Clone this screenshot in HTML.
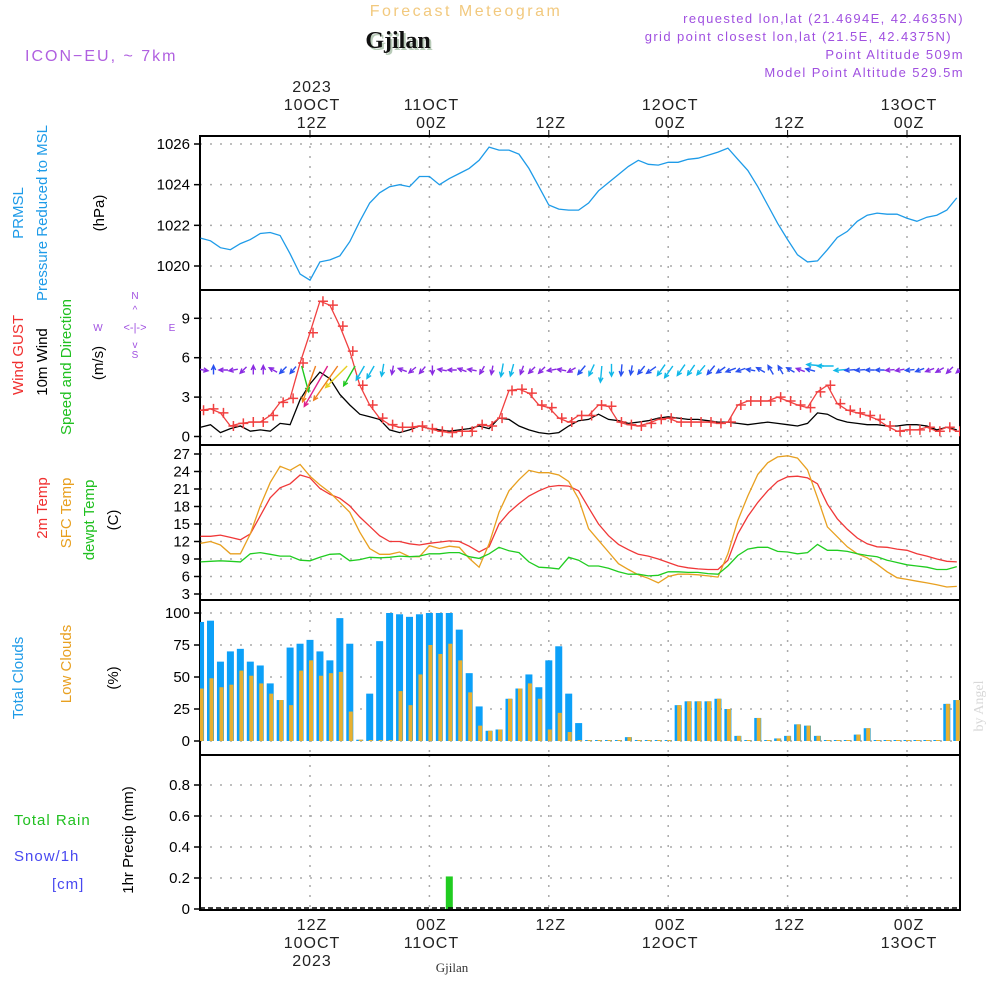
<!DOCTYPE html>
<html><head><meta charset="utf-8"><style>
body{margin:0;background:#fff;}
svg{display:block;font-family:"Liberation Sans",sans-serif;}
</style></head><body>
<svg id="chart" width="1000" height="1000" viewBox="0 0 1000 1000">
<text x="466" y="16" text-anchor="middle" font-size="16" fill="#f2c97e" letter-spacing="2.5">Forecast Meteogram</text>
<text x="400" y="50" text-anchor="middle" font-size="24" font-weight="bold" font-family="Liberation Serif,serif" fill="#b8cbb8">Gjilan</text>
<text x="398" y="48" text-anchor="middle" font-size="24" font-weight="bold" font-family="Liberation Serif,serif" fill="#111">Gjilan</text>
<text x="25" y="61" font-size="16" fill="#b060e0" letter-spacing="2">ICON−EU, ~ 7km</text>
<g font-size="13" fill="#a050e0" text-anchor="end" letter-spacing="1.4">
<text x="964" y="23">requested lon,lat (21.4694E, 42.4635N)</text>
<text x="952" y="41">grid point closest lon,lat (21.5E, 42.4375N)</text>
<text x="964" y="59">Point Altitude 509m</text>
<text x="964" y="77">Model Point Altitude 529.5m</text>
</g>
<g id="axes"></g>
<g id="marks"></g>
<g font-size="15">
<text transform="translate(23,213) rotate(-90)" text-anchor="middle" fill="#1e9be8">PRMSL</text>
<text transform="translate(47,213) rotate(-90)" text-anchor="middle" fill="#1e9be8">Pressure Reduced to MSL</text>
<text transform="translate(104,213) rotate(-90)" text-anchor="middle" fill="#000">(hPa)</text>
<text transform="translate(23,355) rotate(-90)" text-anchor="middle" fill="#f03030">Wind GUST</text>
<text transform="translate(47,362) rotate(-90)" text-anchor="middle" fill="#000">10m Wind</text>
<text transform="translate(71,367) rotate(-90)" text-anchor="middle" fill="#20c020">Speed and Direction</text>
<text transform="translate(103,363) rotate(-90)" text-anchor="middle" fill="#000">(m/s)</text>
<text transform="translate(47,508) rotate(-90)" text-anchor="middle" fill="#f03030">2m Temp</text>
<text transform="translate(71,513) rotate(-90)" text-anchor="middle" fill="#e8a020">SFC Temp</text>
<text transform="translate(94,520) rotate(-90)" text-anchor="middle" fill="#20c020">dewpt Temp</text>
<text transform="translate(118,520) rotate(-90)" text-anchor="middle" fill="#000">(C)</text>
<text transform="translate(23,678) rotate(-90)" text-anchor="middle" fill="#1e9be8">Total Clouds</text>
<text transform="translate(71,664) rotate(-90)" text-anchor="middle" fill="#e8a020">Low Clouds</text>
<text transform="translate(118,678) rotate(-90)" text-anchor="middle" fill="#000">(%)</text>
<text transform="translate(133,840) rotate(-90)" text-anchor="middle" fill="#000">1hr Precip (mm)</text>
<text x="14" y="825" fill="#20c020" letter-spacing="1">Total  Rain</text>
<text x="14" y="861" fill="#4848f0" letter-spacing="1">Snow/1h</text>
<text x="52" y="889" fill="#4848f0" letter-spacing="1">[cm]</text>
</g>
<g font-size="10" fill="#a050e0">
<text x="135" y="299" text-anchor="middle">N</text>
<text x="135" y="358" text-anchor="middle">S</text>
<text x="98" y="331" text-anchor="middle">W</text>
<text x="172" y="331" text-anchor="middle">E</text>
<text x="135" y="331" text-anchor="middle" font-size="11">&lt;-|-&gt;</text>
<text x="135" y="313" text-anchor="middle" font-size="10">^</text>
<text x="135" y="348" text-anchor="middle" font-size="10">v</text>
</g>
<text transform="translate(983,706) rotate(-90)" text-anchor="middle" font-size="14" font-family="Liberation Serif,serif" fill="#d8d8d8">by Angel</text>
<text x="452" y="972" text-anchor="middle" font-size="13" font-family="Liberation Serif,serif" fill="#333">Gjilan</text>
</svg>
<script>
// hours from 10OCT 00Z
const hours = Array.from({length:77},(_, i)=>i+1);
const pressure = [1021.37,1021.24,1020.9,1020.8,1021.1,1021.3,1021.6,1021.65,1021.5,1020.6,1019.6,1019.3,1020.2,1020.3,1020.5,1021.2,1022.2,1023.1,1023.6,1023.9,1024.0,1023.9,1024.4,1024.4,1024.0,1024.3,1024.55,1024.8,1025.2,1025.85,1025.7,1025.7,1025.5,1024.8,1023.9,1023.0,1022.8,1022.75,1022.75,1023.1,1023.7,1024.1,1024.5,1024.9,1025.2,1025.0,1024.96,1025.1,1025.1,1025.25,1025.3,1025.45,1025.6,1025.8,1025.25,1024.7,1023.9,1023.0,1022.1,1021.3,1020.55,1020.2,1020.25,1020.8,1021.4,1021.7,1022.2,1022.5,1022.6,1022.55,1022.55,1022.35,1022.2,1022.4,1022.5,1022.75,1023.35];
const gust = [2.0,2.1,1.8,0.8,1.0,1.1,1.1,1.6,2.6,2.9,5.6,7.9,10.3,10.0,8.4,6.5,3.9,2.4,1.4,0.9,0.7,0.7,0.8,0.6,0.4,0.3,0.4,0.4,0.9,0.8,1.4,3.5,3.6,3.3,2.4,2.2,1.4,1.1,1.6,1.6,2.4,2.3,1.1,0.9,0.8,1.0,1.3,1.4,1.1,1.1,1.1,1.1,1.0,1.1,2.4,2.7,2.7,2.7,3.0,2.7,2.4,2.2,3.4,3.9,2.5,2.0,1.8,1.6,1.3,0.8,0.4,0.5,0.5,0.7,0.4,0.7,0.4];
const wind = [0.7,0.9,0.3,0.6,0.8,0.4,0.5,0.4,1.0,0.9,2.8,4.0,4.9,4.4,3.2,2.4,1.7,1.5,1.3,0.5,0.3,0.5,0.8,0.6,0.5,0.4,0.5,0.6,0.8,0.6,1.4,1.3,0.8,0.5,0.3,0.2,0.3,0.8,1.2,1.3,1.7,1.3,1.2,1.0,1.1,1.2,1.4,1.5,1.4,1.3,1.3,1.2,1.1,1.1,1.0,0.9,1.0,1.1,1.0,0.9,0.8,1.0,1.8,1.7,1.3,1.1,1.0,0.9,0.9,0.8,0.8,0.9,0.9,0.8,0.5,0.7,0.5];
const windDir = [100,0,270,260,225,0,0,300,225,220,165,200,210,215,225,210,210,210,190,190,290,230,220,180,280,270,290,280,210,190,190,195,200,225,225,260,280,240,220,205,185,180,185,190,220,235,215,215,215,215,220,220,235,250,250,280,300,330,330,300,290,285,275,270,265,265,265,270,270,265,260,265,250,250,240,225,230];
const temp2m = [12.9,12.9,13.1,12.7,12.3,13.3,16.4,19.5,21.2,21.9,23.4,22.9,21.1,20.1,19.4,18.1,16.2,14.6,13.0,12.0,12.0,11.6,11.4,11.7,11.9,12.1,12.0,11.2,10.2,11.1,15.0,17.0,18.5,19.8,20.7,21.4,21.6,21.5,20.7,17.8,15.0,13.0,11.5,10.6,9.8,9.5,9.0,8.4,7.8,7.5,7.3,7.2,7.2,8.8,13.3,16.3,18.7,20.7,22.3,23.1,23.2,22.9,21.9,18.4,15.9,14.1,12.6,11.6,11.1,11.0,10.7,10.5,9.9,9.5,9.0,8.6,8.5];
const sfcTemp = [11.7,12.0,11.4,9.9,9.9,13.3,18.1,22.1,24.9,24.2,25.2,23.2,21.7,20.4,18.7,17.0,13.6,10.8,9.8,9.8,10.2,9.4,9.4,11.3,10.8,11.2,11.0,9.1,7.6,11.6,17.0,20.7,22.6,24.2,23.8,23.8,23.4,22.3,19.3,14.2,12.2,10.2,8.2,7.2,6.3,5.7,4.9,6.0,6.4,6.4,6.3,6.1,5.9,9.9,15.6,19.8,23.5,25.5,26.5,26.7,26.3,24.3,19.5,14.5,12.8,11.1,9.9,9.2,8.1,6.8,5.8,5.5,5.2,4.9,4.6,4.2,4.3];
const dewpt = [8.5,8.6,8.7,8.6,8.5,9.9,10.1,9.8,9.5,9.5,8.8,8.7,9.3,9.8,9.9,8.7,8.9,9.3,9.2,9.3,9.5,9.4,9.5,9.9,9.9,10.1,10.1,9.4,9.1,9.9,11.0,10.4,10.1,8.5,7.6,7.5,7.3,9.3,8.8,7.8,7.8,7.4,6.8,6.4,6.4,6.1,6.2,6.8,6.8,6.7,6.7,6.5,6.4,7.8,9.6,10.7,11.0,11.0,10.3,10.2,9.9,10.1,11.5,10.5,10.5,10.3,9.9,9.6,9.4,8.8,8.4,8.0,7.8,7.6,7.2,7.2,7.7];
const totalCloud = [93,94,62,70,72,62,59,45,32,73,76,79,70,63,96,76,1,37,78,100,99,97,99,100,100,100,87,53,27,8,9,33,41,52,42,63,74,37,14,0.5,0,0,0,3,0,0,0,0,28,31,31,31,33,25,4,0,18,0,2,4,13,12,4,0,0,0,5,10,0,0,0,0,0,0,0,29,32];
const lowCloud = [41,49,42,44,55,51,45,37,32,28,55,63,51,53,54,23,1,0,0,0,39,28,52,75,68,76,63,38,12,8,9,33,41,45,33,9,22,7,0,0,0,0,0,3,0,0,0,0,28,31,31,31,33,25,4,0,18,0,2,4,13,12,4,0,0,0,5,10,0,0,0,0,0,0,0,29,32];
const precip = hours.map(h=>0); precip[25]=0.21;
const pTicks=[1020,1022,1024,1026], wTicks=[0,3,6,9], tTicks=[3,6,9,12,15,18,21,24,27], cTicks=[0,25,50,75,100], rTicks=[0,0.2,0.4,0.6,0.8];
const timeTicks=[12,24,36,48,60,72];
const topLabels=[["2023","10OCT","12Z"],["","11OCT","00Z"],["","","12Z"],["","12OCT","00Z"],["","","12Z"],["","13OCT","00Z"]];
const botLabels=[["12Z","10OCT","2023"],["00Z","11OCT",""],["12Z","",""],["00Z","12OCT",""],["12Z","",""],["00Z","13OCT",""]];

const NS="http://www.w3.org/2000/svg";
const X0=200,X1=960;
const xOf=h=>310+(h-12)*9.95;
const scale=(d0,d1,r0,r1)=>v=>r0+(v-d0)*(r1-r0)/(d1-d0);
const yP=scale(1020,1026,266,144), yW=scale(0,9,436.5,318.3), yT=scale(3,27,594,454), yC=scale(0,100,741,613), yR=scale(0,0.8,909,785);
const axes=document.getElementById('axes'), marks=document.getElementById('marks');
function mk(tag,attrs,parent){const e=document.createElementNS(NS,tag);for(const k in attrs)e.setAttribute(k,attrs[k]);(parent||marks).appendChild(e);return e;}
const panels=[[136,290,pTicks,yP,'pressure',v=>v],[290,445,wTicks,yW,'wind',v=>v],[445,600,tTicks,yT,'temp',v=>v],[600,755,cTicks,yC,'cloud',v=>v],[755,910,rTicks,yR,'precip',v=>v===0?'0':v.toFixed(1)]];
panels.forEach(([top,bot,ticks,ys,nm,fmt])=>{
  const g=mk('g',{},axes);
  
  
  ticks.forEach(t=>{
    const y=ys(t);
    const gl=mk('line',{x1:X0,x2:X1,y1:y,y2:y,stroke:'#aaa','stroke-dasharray':'2,8','stroke-width':1.5},g);
    
    
    mk('line',{x1:X0-6,x2:X0,y1:y,y2:y,stroke:'#000','stroke-width':1.5},g);
    const tl=mk('text',{x:190,y:y+5,'text-anchor':'end','font-size':15,fill:'#000'},g);
    tl.textContent=fmt(t);
    
    
  });
  timeTicks.forEach(h=>{
    const vl=mk('line',{x1:xOf(h),x2:xOf(h),y1:top,y2:bot,stroke:'#aaa','stroke-dasharray':'2,8','stroke-width':1.5},g);
    
    
  });
  const fr=mk('rect',{x:X0,y:top,width:X1-X0,height:bot-top,fill:'none',stroke:'#000','stroke-width':2},g);
  
  
});
timeTicks.forEach((h,i)=>{
  const x=xOf(h)+2;
  topLabels[i].forEach((s,j)=>{ if(!s)return;
    const t=mk('text',{x:x,y:92+j*18,'text-anchor':'middle','font-size':16,fill:'#222','letter-spacing':1},axes);
    t.textContent=s;
    
    
  });
  botLabels[i].forEach((s,j)=>{ if(!s)return;
    const t=mk('text',{x:x,y:930+j*18,'text-anchor':'middle','font-size':16,fill:'#222','letter-spacing':1},axes);
    t.textContent=s;
    
    
  });
  mk('line',{x1:xOf(h),x2:xOf(h),y1:130,y2:136,stroke:'#000'},axes);
});
function line(vals,ys,color,name,w){
  const d=vals.map((v,i)=>(i?'L':'M')+xOf(hours[i]).toFixed(1)+','+ys(v).toFixed(1)).join('');
  const p=mk('path',{d:d,fill:'none',stroke:color,'stroke-width':w||1.3});
  
  
}
const cp=mk('clipPath',{id:'cl'},marks);mk('rect',{x:X0,y:130,width:X1-X0,height:790},cp);
marks.setAttribute('clip-path','url(#cl)');
line(pressure,yP,'#1e9be8','pressure-line');
line(wind,yW,'#000','wind-speed-line');
line(gust,yW,'#f04040','gust-line');
gust.forEach((v,i)=>{
  const x=xOf(hours[i])+3,y=yW(v);
  const m=mk('path',{d:`M${x-5},${y}H${x+5}M${x},${y-5}V${y+5}`,stroke:'#f04040','stroke-width':1.5});
  
  
});
function wcol(s){return s<0.9?'#8a2be2':s<1.3?'#2850f0':s<2?'#10b8e8':s<3?'#20c820':s<3.6?'#e8d020':s<4.5?'#f08020':'#e0208a';}
windDir.forEach((d,i)=>{
  const s=wind[i],L=Math.max(9,s*9.5),a=d*Math.PI/180;
  const dx=Math.sin(a)*L,dy=-Math.cos(a)*L;
  const cx=xOf(hours[i])+3;
  let x0,y0;
  if(L>14){x0=cx-dx*0.2;y0=366;}else{x0=cx-dx/2;y0=370-dy/2;}
  const x1=x0+dx,y1=y0+dy,ha=0.45,hl=5;
  const bx=-Math.sin(a),by=Math.cos(a);
  const hx1=x1+hl*(bx*Math.cos(ha)-by*Math.sin(ha)),hy1=y1+hl*(by*Math.cos(ha)+bx*Math.sin(ha));
  const hx2=x1+hl*(bx*Math.cos(-ha)-by*Math.sin(-ha)),hy2=y1+hl*(by*Math.cos(-ha)+bx*Math.sin(-ha));
  const ar=mk('path',{d:`M${x0},${y0}L${x1},${y1}M${hx1},${hy1}L${x1},${y1}L${hx2},${hy2}`,stroke:wcol(s),'stroke-width':1.4,fill:'none'});
  
  
});
line(temp2m,yT,'#f03838','temp-2m-line');
line(sfcTemp,yT,'#e8a020','sfc-temp-line');
line(dewpt,yT,'#20cc20','dewpt-line');
totalCloud.forEach((v,i)=>{
  const x=xOf(hours[i]);
  const h=Math.max(1,741-yC(v));
  const b=mk('rect',{x:x-3.5,y:741-h,width:7,height:h,fill:'#0ca0f8'});
  
  
  const lh=Math.max(1,741-yC(lowCloud[i]));
  const b2=mk('rect',{x:x-1,y:741-lh,width:4,height:lh,fill:'#e8b030'});
  
  
});
precip.forEach((v,i)=>{ if(v<=0)return;
  const x=xOf(hours[i]);
  const b=mk('rect',{x:x-3.5,y:yR(v),width:7,height:909-yR(v),fill:'#20cc20'});
  
  
});
const zl=mk('line',{x1:X0,x2:X1,y1:908,y2:908,stroke:'#000','stroke-dasharray':'5,3','stroke-width':1.5});


</script>
</body></html>
